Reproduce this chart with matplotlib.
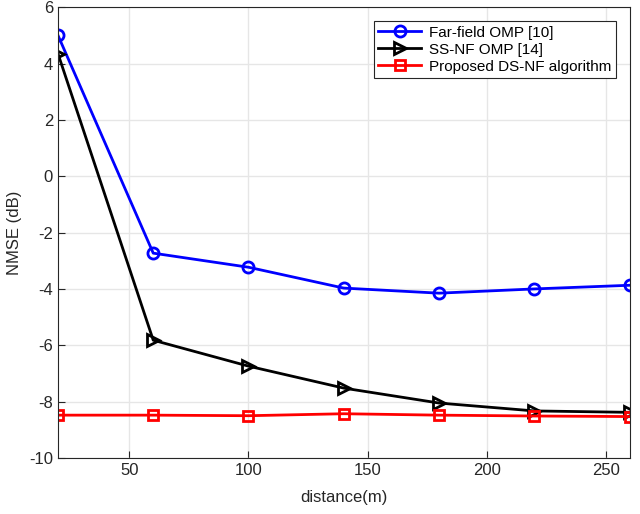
import matplotlib
matplotlib.use("Agg")
import matplotlib.pyplot as plt

distance = [20, 60, 100, 140, 180, 220, 260]
far_field_omp = [5.0, -2.73, -3.23, -3.97, -4.15, -4.0, -3.87]
ss_nf_omp = [4.35, -5.82, -6.74, -7.52, -8.05, -8.33, -8.38]
proposed_ds_nf = [-8.48, -8.48, -8.5, -8.43, -8.48, -8.51, -8.53]

plt.rcParams['font.family'] = ['Liberation Sans', 'DejaVu Sans']
plt.rcParams['axes.unicode_minus'] = False

fig = plt.figure(figsize=(6.4, 5.14), dpi=100)
ax = fig.add_axes([0.0906, 0.109, 0.893, 0.877])

ax.plot(distance, far_field_omp, color='#0000ff', lw=2, marker='o', ms=8,
        mfc='none', mew=2, label='Far-field OMP [10]')
ax.plot(distance, ss_nf_omp, color='black', lw=2, marker='>', ms=9,
        mfc='none', mew=2, label='SS-NF OMP [14]')
ax.plot(distance, proposed_ds_nf, color='#ff0000', lw=2, marker='s', ms=6.5,
        mfc='none', mew=2, label='Proposed DS-NF algorithm')

ax.set_xlim(20, 260)
ax.set_ylim(-10, 6)
ax.set_xticks([50, 100, 150, 200, 250])
ax.set_yticks(range(-10, 7, 2))
ax.grid(True, color='#e6e6e6', lw=1)
ax.set_axisbelow(True)
ax.tick_params(direction='in', labelsize=12, colors='#262626', length=5)
for s in ax.spines.values():
    s.set_color('#262626')
    s.set_linewidth(0.8)

ax.set_xlabel('distance(m)', fontsize=12, color='#262626', labelpad=9)
ax.set_ylabel('NMSE (dB)', fontsize=12, color='#262626', labelpad=5)

leg = ax.legend(loc='upper right', fontsize=11, fancybox=False, framealpha=1,
                edgecolor='#262626', borderaxespad=0.9, handlelength=2.8,
                borderpad=0.3, labelspacing=0.2, handletextpad=0.5)
leg.get_frame().set_linewidth(0.8)

fig.savefig('out.png', dpi=100)
